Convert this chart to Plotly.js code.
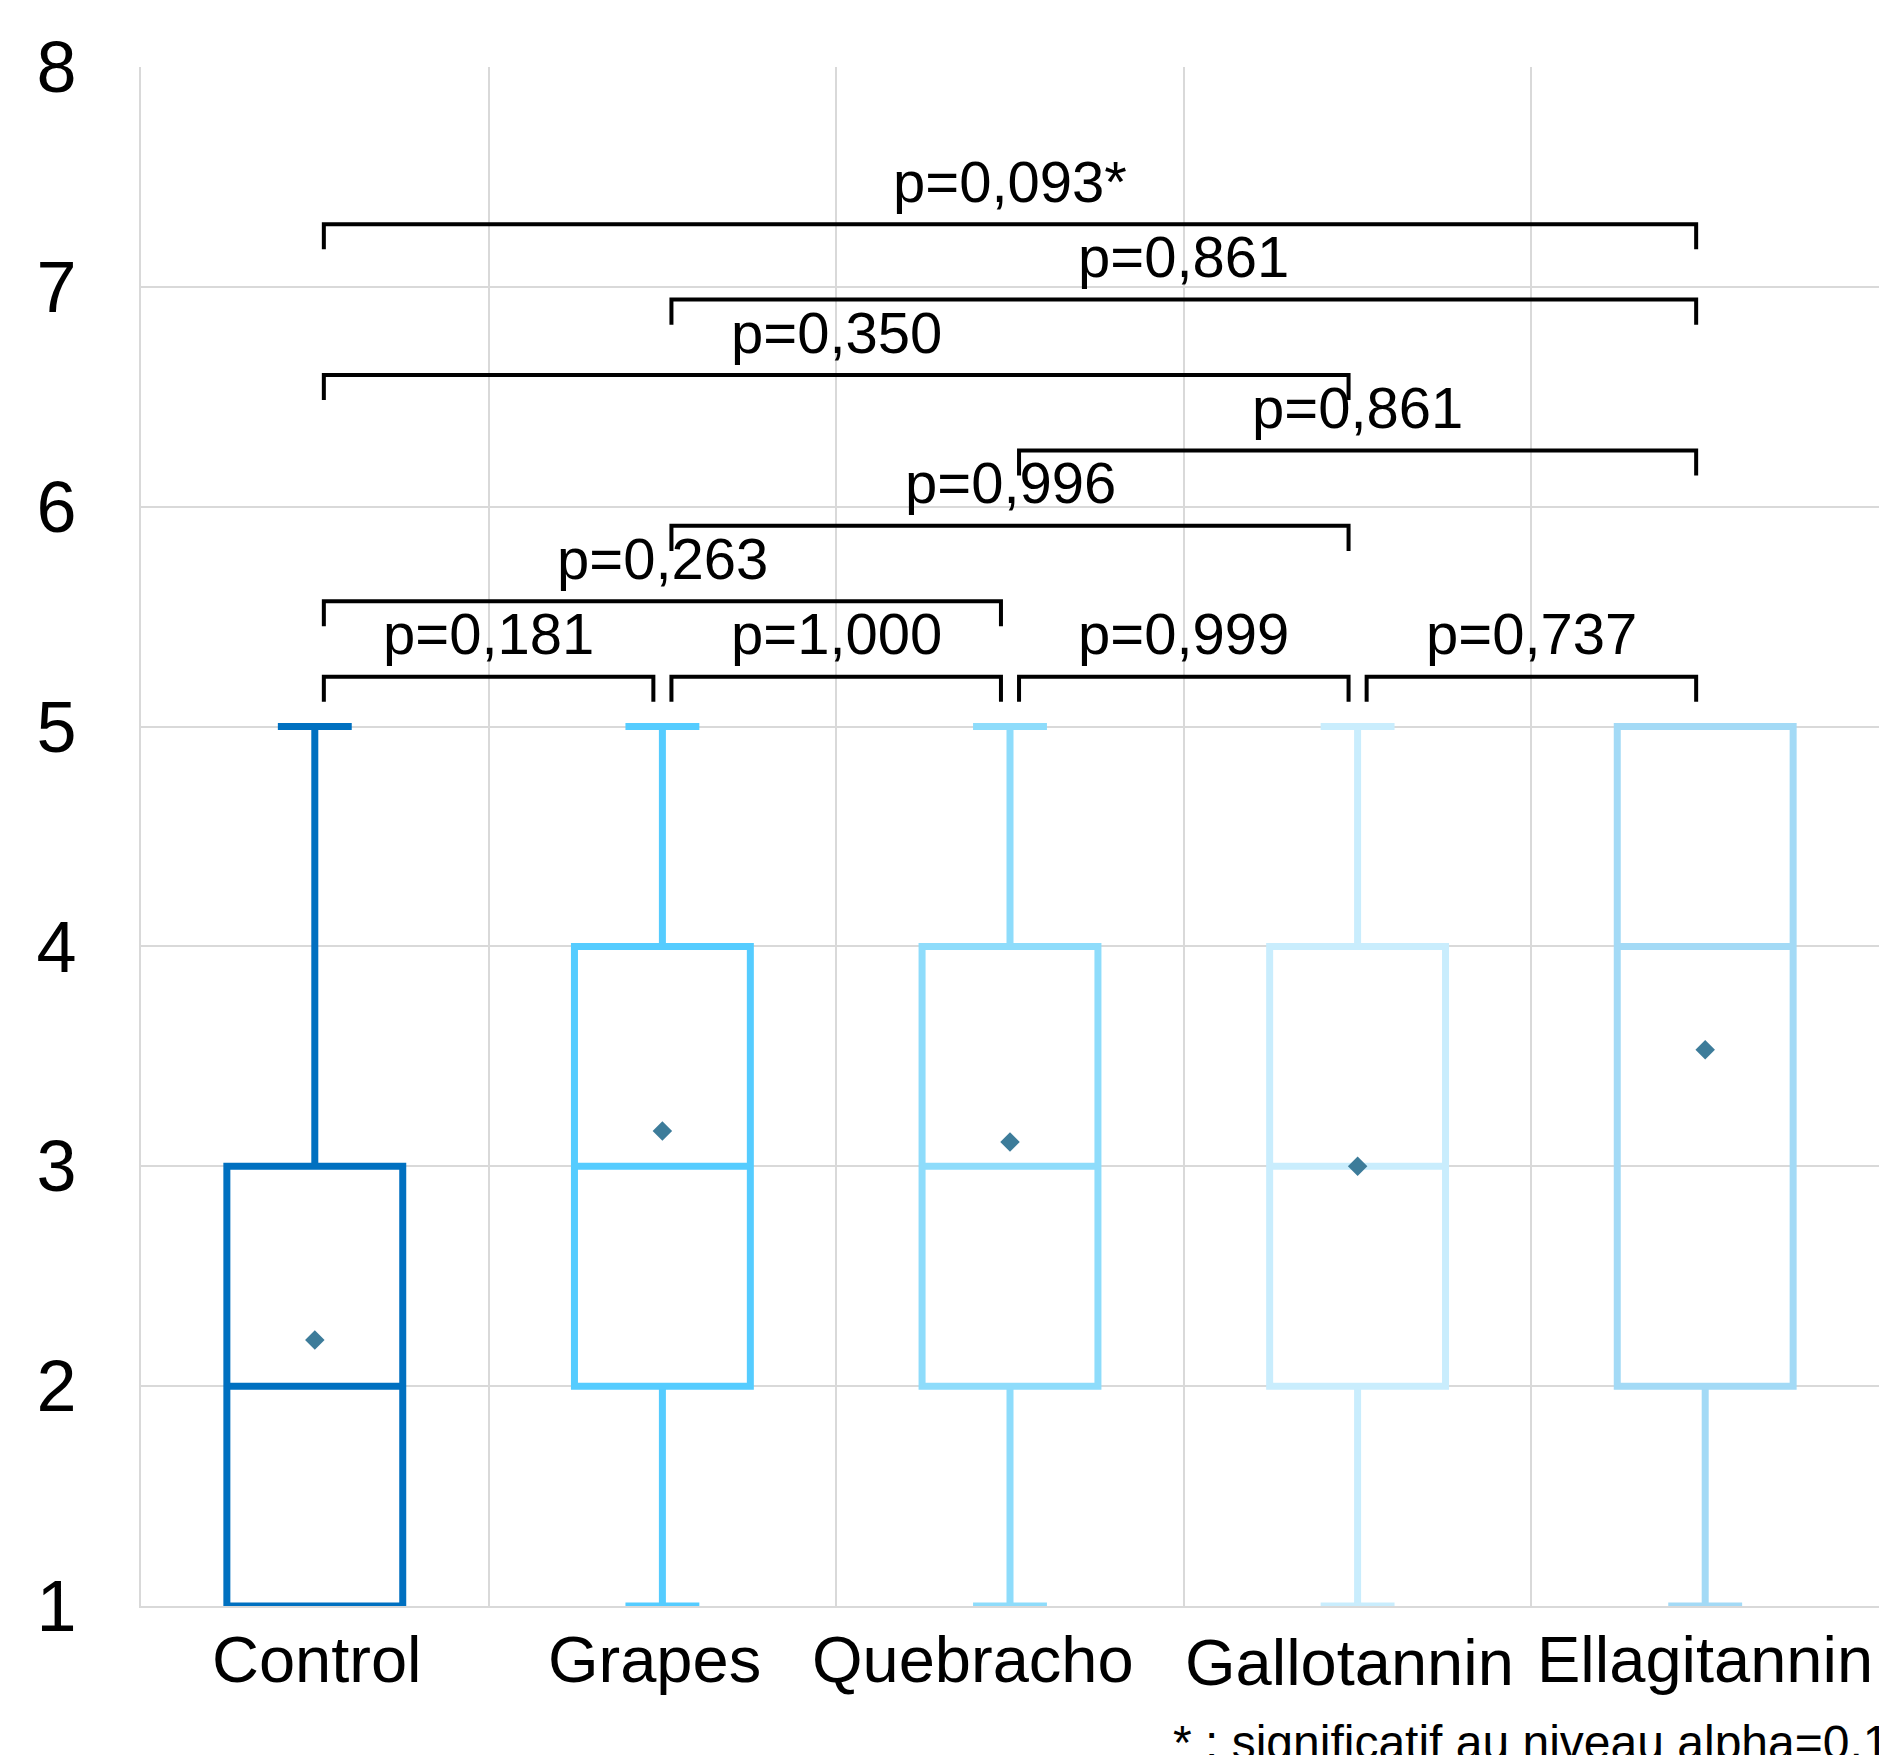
<!DOCTYPE html>
<html>
<head>
<meta charset="utf-8">
<script src="https://cdn.plot.ly/plotly-3.0.1.min.js"></script>
<style>html,body{margin:0;padding:0;background:#fff;}#chart{width:1879px;height:1755px;}</style>
</head>
<body>
<div id="chart"></div>
<script>
// ---- data ----
const categories = ["Control", "Grapes", "Quebracho", "Gallotannin", "Ellagitannin"];
const minValues    = [1, 1, 1, 1, 1];
const q1Values     = [1, 2, 2, 2, 2];
const medianValues = [2, 3, 3, 3, 4];
const q3Values     = [3, 4, 4, 4, 5];
const maxValues    = [5, 5, 5, 5, 5];
const meanValues   = [2.21, 3.16, 3.11, 3.00, 3.53];
const boxColors    = ["#0070C0", "#55CCFF", "#8EDCFB", "#C9EDFD", "#A3DAF6"];

// pairwise comparisons (index of first group, index of second group, p-value label), from lowest bracket to highest
const compFirst  = [0, 1, 2, 3, 0, 1, 2, 0, 1, 0];
const compSecond = [1, 2, 3, 4, 2, 3, 4, 3, 4, 4];
const compLevel  = [0, 0, 0, 0, 1, 2, 3, 4, 5, 6];
const compLabels = ["p=0,181", "p=1,000", "p=0,999", "p=0,737", "p=0,263", "p=0,996", "p=0,861", "p=0,350", "p=0,861", "p=0,093*"];
const footnote = "* : significatif au niveau alpha=0,1";

// ---- layout constants (label nudges in px, as placed in the original) ----
const labelShiftX = [2, -8, -37, -8, 0];
const labelShiftY = [0, 0, 0, -3, 0];

// ---- traces ----
const FONT = "Liberation Sans, Arial, sans-serif";
const traces = categories.map((c, i) => ({
  type: "box",
  name: c,
  x: [c],
  q1: [q1Values[i]],
  median: [medianValues[i]],
  q3: [q3Values[i]],
  lowerfence: [minValues[i]],
  upperfence: [maxValues[i]],
  boxpoints: false,
  width: 0.506,
  whiskerwidth: 0.42,
  line: { color: boxColors[i], width: 7 },
  fillcolor: "rgba(255,255,255,0)",
  showlegend: false,
  hoverinfo: "skip"
}));
traces.push({
  type: "scatter",
  mode: "markers",
  x: categories,
  y: meanValues,
  marker: { symbol: "diamond", size: 15, color: "#3D7C9A" },
  showlegend: false,
  hoverinfo: "skip"
});

// ---- brackets ----
const levelBase = 5.227, levelStep = 0.343, tickDrop = 0.114, inset = 0.026;
const shapes = [], annotations = [];
compFirst.forEach((a, k) => {
  const b = compSecond[k];
  const y = levelBase + levelStep * compLevel[k];
  const x0 = a + inset, x1 = b - inset;
  shapes.push({
    type: "path", xref: "x", yref: "y",
    path: `M ${x0},${y - tickDrop} L ${x0},${y} L ${x1},${y} L ${x1},${y - tickDrop}`,
    line: { color: "#000", width: 4 }, layer: "above"
  });
  annotations.push({
    xref: "x", yref: "y", x: (x0 + x1) / 2, y: y,
    text: compLabels[k], showarrow: false,
    xanchor: "center", yanchor: "middle", yshift: 43,
    font: { family: FONT, size: 58, color: "#000" }
  });
});
// category labels under the axis
categories.forEach((c, i) => {
  annotations.push({
    xref: "x", yref: "paper", x: c, y: -0.035,
    xanchor: "center", yanchor: "middle",
    xshift: labelShiftX[i], yshift: labelShiftY[i],
    text: c, showarrow: false,
    font: { family: FONT, size: 65, color: "#000" }
  });
});
annotations.push({
  xref: "paper", yref: "paper", x: 0.5925, y: -0.0705,
  xanchor: "left", yanchor: "top",
  text: footnote, showarrow: false,
  font: { family: FONT, size: 48, color: "#000" }
});

const layout = {
  width: 1879, height: 1755,
  margin: { l: 141, r: 0, t: 67, b: 149, pad: 0 },
  paper_bgcolor: "#fff", plot_bgcolor: "#fff",
  boxmode: "overlay",
  font: { family: FONT, color: "#000" },
  xaxis: {
    type: "category",
    categoryorder: "array", categoryarray: categories,
    range: [-0.5, 4.5],
    tickson: "boundaries",
    showgrid: true, gridcolor: "#D9D9D9", gridwidth: 2,
    showline: true, linecolor: "#D9D9D9", linewidth: 2,
    ticks: "", showticklabels: false,
    zeroline: false, fixedrange: true
  },
  yaxis: {
    range: [1, 8], dtick: 1, tick0: 1,
    showgrid: true, gridcolor: "#D9D9D9", gridwidth: 2,
    showline: true, linecolor: "#D9D9D9", linewidth: 2,
    ticks: "", ticklabelstandoff: 48,
    tickfont: { family: FONT, size: 72, color: "#000" },
    zeroline: false, fixedrange: true
  },
  shapes: shapes,
  annotations: annotations,
  showlegend: false
};

Plotly.newPlot("chart", traces, layout, { displayModeBar: false, staticPlot: true });
</script>
</body>
</html>
